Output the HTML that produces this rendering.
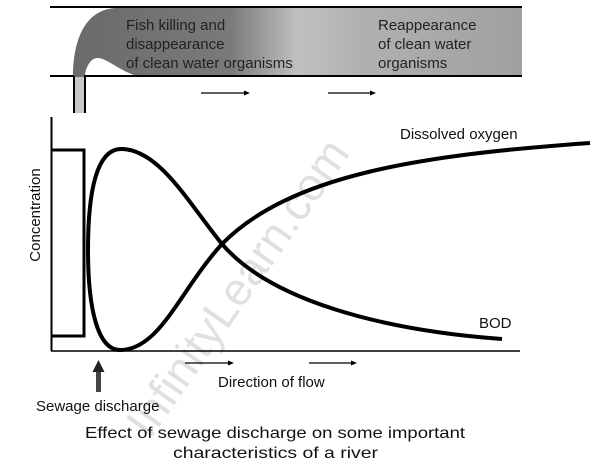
<!DOCTYPE html>
<html><head><style>html,body{margin:0;padding:0;background:#fff;}svg{display:block}</style></head>
<body>
<svg width="604" height="462" viewBox="0 0 604 462" xmlns="http://www.w3.org/2000/svg" font-family="Liberation Sans, sans-serif">
<defs>
<linearGradient id="g" x1="0" x2="1" y1="0" y2="0">
<stop offset="0" stop-color="#6a6a6a"/>
<stop offset="0.35" stop-color="#7a7a7a"/>
<stop offset="0.5" stop-color="#c0c0c0"/>
<stop offset="0.65" stop-color="#b0b0b0"/>
<stop offset="1" stop-color="#a0a0a0"/>
</linearGradient>
</defs>
<!-- river band -->
<path d="M73,77 C73,40 85,10 115,8 L522,8 L522,77 L140,77 C115,70 102,52 92,60 C87,65 85,71 85,77 Z" fill="url(#g)"/>
<rect x="74" y="77" width="10" height="36" fill="#c8c8c8"/>
<line x1="50" y1="7" x2="522" y2="7" stroke="#000" stroke-width="2"/>
<line x1="50" y1="76" x2="74" y2="76" stroke="#000" stroke-width="2"/>
<line x1="84" y1="76" x2="522" y2="76" stroke="#000" stroke-width="2"/>
<line x1="74" y1="76" x2="74" y2="113" stroke="#000" stroke-width="2"/>
<line x1="85" y1="76" x2="85" y2="113" stroke="#000" stroke-width="2"/>
<g font-size="15" fill="#222">
<text x="126" y="30">Fish killing and</text>
<text x="126" y="49">disappearance</text>
<text x="126" y="68">of clean water organisms</text>
<text x="378" y="30">Reappearance</text>
<text x="378" y="49">of clean water</text>
<text x="378" y="68">organisms</text>
</g>
<g stroke="#000" stroke-width="1.3">
<line x1="201" y1="93" x2="246" y2="93"/><line x1="328" y1="93" x2="372" y2="93"/>
<line x1="185" y1="363" x2="230" y2="363"/><line x1="309" y1="363" x2="353" y2="363"/>
</g>
<g fill="#000">
<path d="M250,93 l-6,-2.5 v5z"/><path d="M376,93 l-6,-2.5 v5z"/>
<path d="M234,363 l-6,-2.5 v5z"/><path d="M357,363 l-6,-2.5 v5z"/>
</g>
<!-- axes -->
<line x1="51.5" y1="117" x2="51.5" y2="351" stroke="#000" stroke-width="2"/>
<line x1="51" y1="351" x2="520" y2="351" stroke="#000" stroke-width="1.5"/>
<path d="M51,150 L84,150 L84,336 L51,336" fill="none" stroke="#000" stroke-width="3"/>
<!-- curves -->
<path d="M88,250 C88,190 97,148 122,149 C160,150 190,205 222,244 C270,300 380,330 502,339" fill="none" stroke="#000" stroke-width="4"/>
<path d="M88,250 C88,310 98,350 120,350 C160,350 180,290 222,244 C290,175 420,155 590,143" fill="none" stroke="#000" stroke-width="4"/>
<text x="400" y="139" font-size="15" fill="#111">Dissolved oxygen</text>
<text x="479" y="328" font-size="15" fill="#111">BOD</text>
<text transform="translate(40,215) rotate(-90)" font-size="15" text-anchor="middle" fill="#111">Concentration</text>
<text x="218" y="387" font-size="15" fill="#111">Direction of flow</text>
<!-- sewage arrow -->
<rect x="96" y="370" width="5" height="22" fill="#444"/>
<path d="M98.5,360 l-6,12 h12z" fill="#222"/>
<text x="36" y="411" font-size="15" fill="#111">Sewage discharge</text>
<text x="85" y="438" font-size="16" fill="#111" textLength="380" lengthAdjust="spacingAndGlyphs">Effect of sewage discharge on some important</text>
<text x="173" y="458" font-size="16" fill="#111" textLength="205" lengthAdjust="spacingAndGlyphs">characteristics of a river</text>
<text transform="translate(150,440) rotate(-55)" font-size="46" fill="#000" fill-opacity="0.12">InfinityLearn.com</text>
</svg>
</body></html>
